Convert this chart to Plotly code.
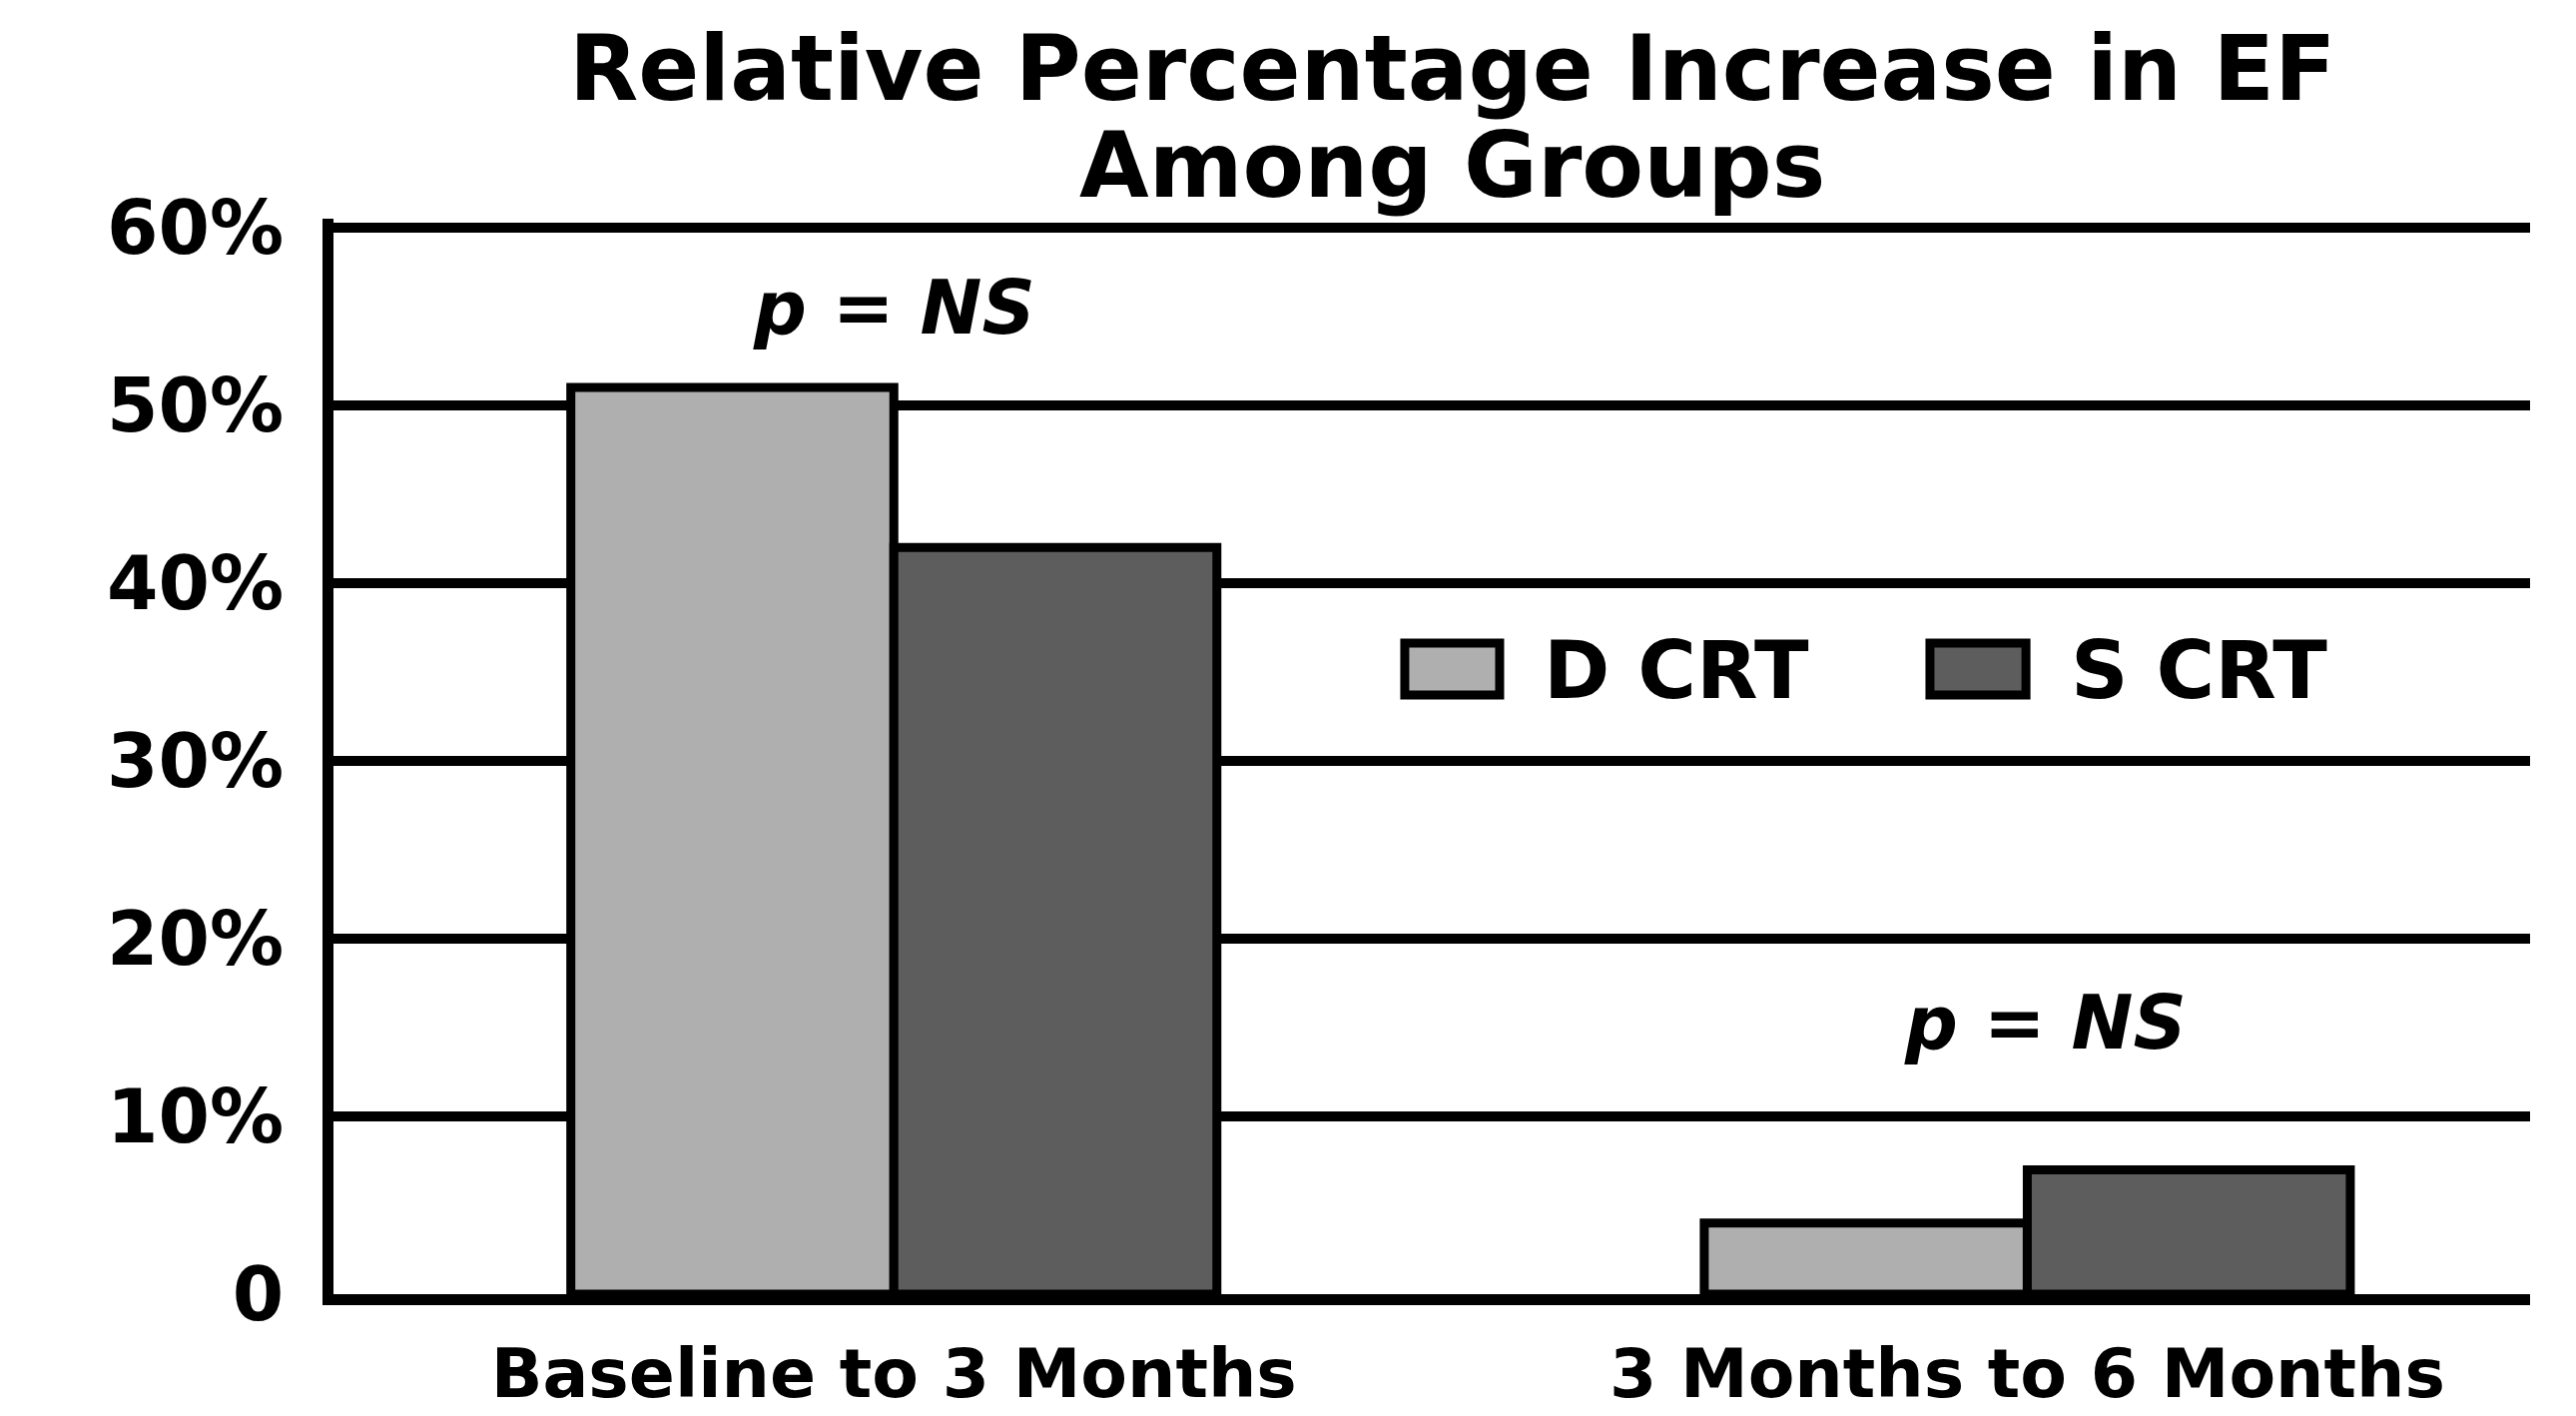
import plotly.graph_objects as go

# ---- data ----
categories = ["Baseline to 3 Months", "3 Months to 6 Months"]
series_names = ["D CRT", "S CRT"]
d_crt = [51, 4]
s_crt = [42, 7]
y_tick_vals = [0, 10, 20, 30, 40, 50, 60]
y_tick_text = ["0", "10%", "20%", "30%", "40%", "50%", "60%"]
p_labels = ["p = NS", "p = NS"]
p_label_y = [55.5, 15.3]
title_lines = ["Relative Percentage Increase in EF", "Among Groups"]

colors = ["#afafaf", "#5d5d5d"]
FONT = "DejaVu Sans"

fig = go.Figure()
for name, vals, col in zip(series_names, [d_crt, s_crt], colors):
    fig.add_trace(go.Bar(
        x=categories, y=vals, name=name,
        marker=dict(color=col, line=dict(color="black", width=9)),
        showlegend=False,
    ))

L, R, T, B = 334, 46, 219, 122
fig.update_layout(
    width=2580, height=1418,
    margin=dict(l=L, r=R, t=T, b=B, pad=0, autoexpand=False),
    paper_bgcolor="white", plot_bgcolor="white",
    barmode="group", bargap=0.43, bargroupgap=0,
    font=dict(family=FONT, color="black"),
)
fig.update_xaxes(
    type="category", range=[-0.4944, 1.4436], automargin=False,
    showline=True, linecolor="black", linewidth=11,
    showgrid=False, ticks="", ticklabelstandoff=10,
    tickfont=dict(family=FONT, size=68, color="black", weight="bold"),
)
fig.update_yaxes(
    range=[0, 60.5], tickvals=y_tick_vals, ticktext=y_tick_text, automargin=False,
    showline=True, linecolor="black", linewidth=11,
    showgrid=True, gridcolor="black", gridwidth=10,
    zeroline=False, ticks="", ticklabelstandoff=24,
    tickfont=dict(family=FONT, size=74, color="black", weight="bold"),
)

# p-value annotations
for cat, txt, yv, xs in zip(categories, p_labels, p_label_y, [0, 18]):
    p, rest = txt.split(" = ")
    fig.add_annotation(
        x=cat, y=yv, xref="x", yref="y", showarrow=False, xshift=xs,
        text=f"<b><i>{p}</i> = <i>{rest}</i></b>",
        font=dict(family=FONT, size=74, color="black"),
        xanchor="center", yanchor="middle",
    )

# title (two lines)
for txt, yp in zip(title_lines, [1.1395, 1.0500]):
    fig.add_annotation(
        x=0.5095, y=yp, xref="paper", yref="paper", showarrow=False,
        text=f"<b>{txt}</b>", font=dict(family=FONT, size=90, color="black"),
        xanchor="center", yanchor="middle",
    )

# custom legend
sw_x = [(0.4877, 0.5309), (0.7268, 0.7705)]
tx_x = [0.5500, 0.7900]
for name, col, (x0, x1), tx in zip(series_names, colors, sw_x, tx_x):
    fig.add_shape(type="rect", xref="paper", yref="paper",
                  x0=x0, x1=x1, y0=0.5571, y1=0.6054,
                  fillcolor=col, line=dict(color="black", width=9))
    fig.add_annotation(
        x=tx, y=0.5800, xref="paper", yref="paper", showarrow=False,
        text=f"<b>{name}</b>", font=dict(family=FONT, size=80, color="black"),
        xanchor="left", yanchor="middle",
    )

fig.write_html("out.html", config={"displayModeBar": False},
               post_script="document.body.style.margin='0';")
